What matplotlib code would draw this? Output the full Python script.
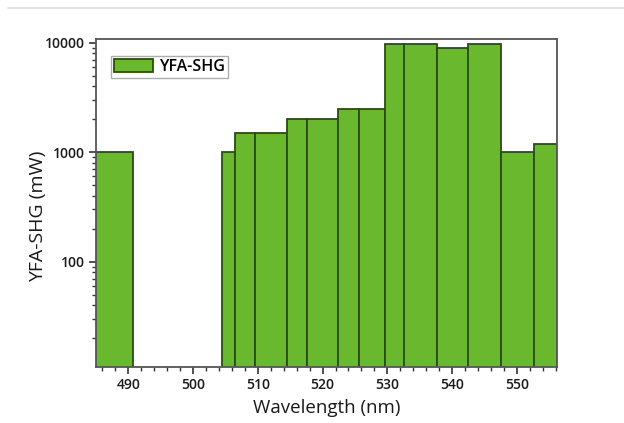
import numpy as np
import matplotlib
matplotlib.use('Agg')
import matplotlib.pyplot as plt
from matplotlib.lines import Line2D
from matplotlib.ticker import MultipleLocator, LogLocator, NullFormatter, FixedFormatter, FixedLocator

plt.rcParams['font.family'] = ['Open Sans', 'DejaVu Sans']

# bar edges (nm) and output power (mW)
left_edges = [484.0, 504.4, 506.5, 509.5, 514.5, 517.6, 522.4, 525.6, 529.6, 532.5, 537.6, 542.4, 547.6, 552.6]
right_edges = [490.7, 506.5, 509.5, 514.5, 517.6, 522.4, 525.6, 529.6, 532.5, 537.6, 542.4, 547.6, 552.6, 557.0]
power = [1000, 1000, 1500, 1500, 2000, 2000, 2500, 2500, 9800, 9800, 9000, 9800, 1000, 1200]
series_name = 'YFA-SHG'

left = np.array(left_edges)
widths = np.array(right_edges) - left

fig = plt.figure(figsize=(6.24, 4.23), dpi=100)
ax = fig.add_axes([0.1538, 0.1324, 0.7388, 0.7747])

ax.bar(left, power, width=widths, align='edge', color='#6ab82e',
       edgecolor='#2a4d0f', linewidth=1.3, label=series_name, zorder=2)

ax.set_yscale('log')
ax.set_ylim(10.9, 10750)
ax.set_xlim(485, 556.2)

ax.xaxis.set_major_locator(MultipleLocator(10))
ax.xaxis.set_minor_locator(MultipleLocator(2))
ax.yaxis.set_major_locator(FixedLocator([100, 1000, 10000]))
ax.yaxis.set_major_formatter(FixedFormatter(['100', '1000', '10000']))
ax.yaxis.set_minor_locator(LogLocator(base=10, subs=np.arange(2, 10)))
ax.yaxis.set_minor_formatter(NullFormatter())

ax.tick_params(which='both', direction='out', top=False, right=False, color='#333333')
ax.tick_params(which='major', length=5, width=1.2, labelsize=10, pad=3, labelcolor='#1a1a1a')
ax.tick_params(which='minor', length=3, width=1.0)
for lab in ax.get_xticklabels() + ax.get_yticklabels():
    lab.set_fontweight('semibold')

for s in ax.spines.values():
    s.set_color('#555555')
    s.set_linewidth(1.3)

ax.set_xlabel('Wavelength (nm)', fontsize=13.5, labelpad=5, color='#1a1a1a')
ax.set_ylabel('YFA-SHG (mW)', fontsize=14, color='#1a1a1a')
ax.yaxis.set_label_coords(-0.107, 0.46)

leg = ax.legend(loc='upper left', bbox_to_anchor=(0.033, 0.95), fontsize=11.5,
                frameon=True, fancybox=False, handlelength=2.4, handleheight=0.9,
                borderpad=0.2, handletextpad=0.4, borderaxespad=0)
leg.get_frame().set_edgecolor('#999999')
leg.get_frame().set_linewidth(1.0)
for t in leg.get_texts():
    t.set_fontweight('semibold')

# thin grey separator at the top of the image
fig.add_artist(Line2D([0.013, 1.0], [0.981, 0.981], color='#dddddd', linewidth=1.2,
                      transform=fig.transFigure))

fig.savefig('out.png', dpi=100)
